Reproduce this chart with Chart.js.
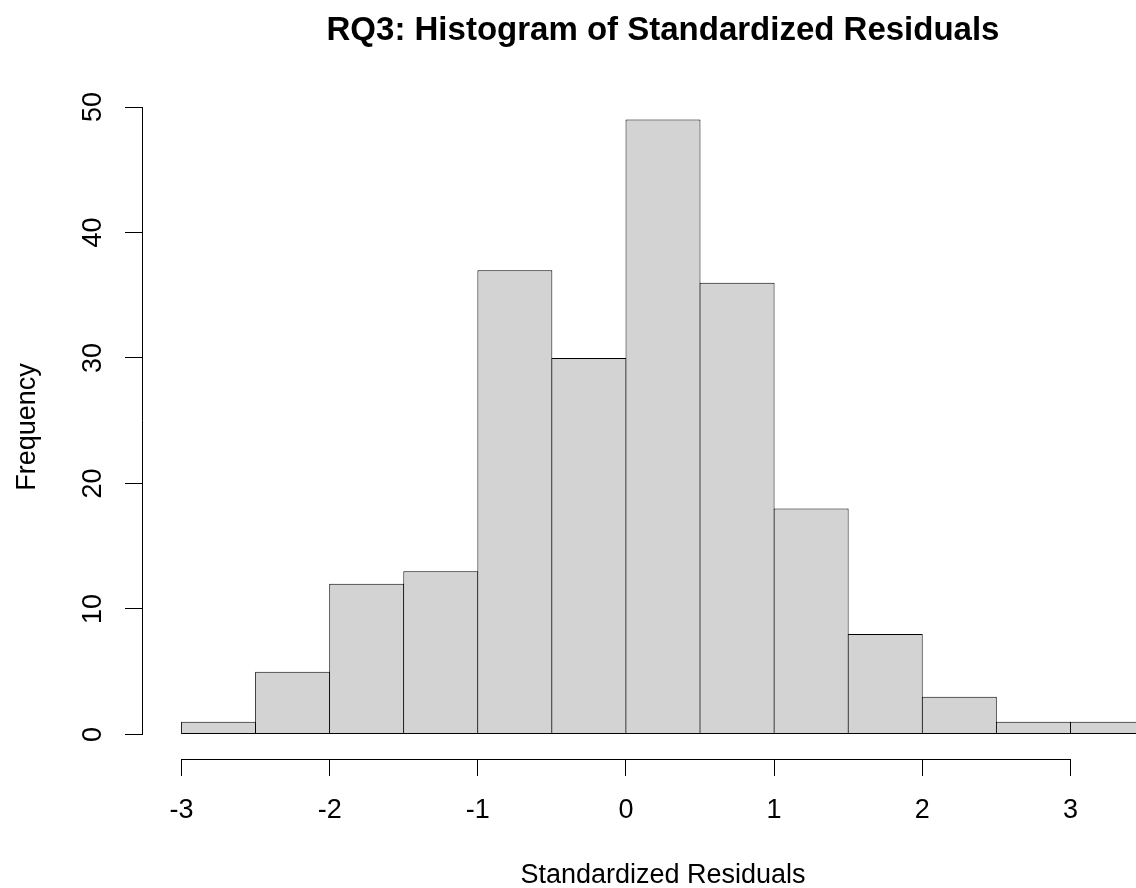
<!DOCTYPE html>
<html>
<head>
<meta charset="utf-8">
<script src="https://cdn.jsdelivr.net/npm/chart.js@4.4.1/dist/chart.umd.min.js"></script>
<style>
  html, body { margin: 0; padding: 0; background: #fff; overflow: hidden; }
  canvas { display: block; }
</style>
</head>
<body>
<canvas id="hist" width="1190" height="888"></canvas>
<script>
// histogram bins (width 0.5) and counts
const binEdges = [-3, -2.5, -2, -1.5, -1, -0.5, 0, 0.5, 1, 1.5, 2, 2.5, 3, 3.5];
const frequencies = [1, 5, 12, 13, 37, 30, 49, 36, 18, 8, 3, 1, 1];
const xTicks = [-3, -2, -1, 0, 1, 2, 3];
const yTicks = [0, 10, 20, 30, 40, 50];

const font = '"Liberation Sans", Arial, sans-serif';

const bars = frequencies.map((f, i) => ({ x: (binEdges[i] + binEdges[i + 1]) / 2, y: f }));

// R style axes: line only from first to last tick
const axisLines = {
  id: 'axisLines',
  afterDraw(chart) {
    const { ctx, chartArea, scales: { x, y } } = chart;
    ctx.save();
    ctx.strokeStyle = '#000';
    ctx.lineWidth = 1;
    ctx.beginPath();
    const by = Math.round(chartArea.bottom) + 0.5;
    ctx.moveTo(x.getPixelForValue(xTicks[0]), by);
    ctx.lineTo(x.getPixelForValue(xTicks[xTicks.length - 1]), by);
    const lx = Math.round(chartArea.left) - 0.5;
    ctx.moveTo(lx, y.getPixelForValue(yTicks[0]));
    ctx.lineTo(lx, y.getPixelForValue(yTicks[yTicks.length - 1]));
    ctx.stroke();
    ctx.restore();
  }
};

new Chart(document.getElementById('hist'), {
  type: 'bar',
  data: {
    datasets: [{
      data: bars,
      backgroundColor: '#D3D3D3',
      borderColor: '#000',
      borderWidth: 1,
      borderSkipped: false,
      barPercentage: 1.012,
      categoryPercentage: 1,
      grouped: false
    }]
  },
  options: {
    responsive: false,
    animation: false,
    layout: { padding: { left: 0, right: 7, top: 0, bottom: 0 } },
    plugins: {
      legend: { display: false },
      tooltip: { enabled: false },
      title: {
        display: true,
        fullSize: false,
        text: 'RQ3: Histogram of Standardized Residuals',
        color: '#000',
        font: { family: font, size: 33, weight: 'bold', lineHeight: 1.2 },
        padding: { top: 11, bottom: 44.4 }
      }
    },
    scales: {
      x: {
        type: 'linear',
        min: -3.26,
        max: 3.76,
        offset: false,
        afterBuildTicks: s => { s.ticks = xTicks.map(v => ({ value: v })); },
        afterFit: s => { s.height = 129; },
        grid: { display: true, offset: false, drawOnChartArea: false, drawTicks: true, tickLength: 17, color: '#000', lineWidth: 1 },
        border: { display: false },
        ticks: { color: '#000', font: { family: font, size: 27 }, padding: 18.4, maxRotation: 0, autoSkip: false },
        title: {
          display: true,
          text: 'Standardized Residuals',
          color: '#000',
          font: { family: font, size: 27, lineHeight: 0.9 },
          padding: { top: 0, bottom: 0 }
        }
      },
      y: {
        type: 'linear',
        min: -1.96,
        max: 50.96,
        afterBuildTicks: s => { s.ticks = yTicks.map(v => ({ value: v })); },
        afterFit: s => { s.width = 143; },
        grid: { display: true, drawOnChartArea: false, drawTicks: true, tickLength: 18, color: '#000', lineWidth: 1 },
        border: { display: false },
        ticks: { color: '#000', font: { family: font, size: 27 }, padding: 16.1, minRotation: 90, maxRotation: 90, crossAlign: 'center' },
        title: {
          display: true,
          text: 'Frequency',
          color: '#000',
          font: { family: font, size: 27, lineHeight: 1.2 },
          padding: { top: 11.4, bottom: 0 }
        }
      }
    }
  },
  plugins: [axisLines]
});
</script>
</body>
</html>
